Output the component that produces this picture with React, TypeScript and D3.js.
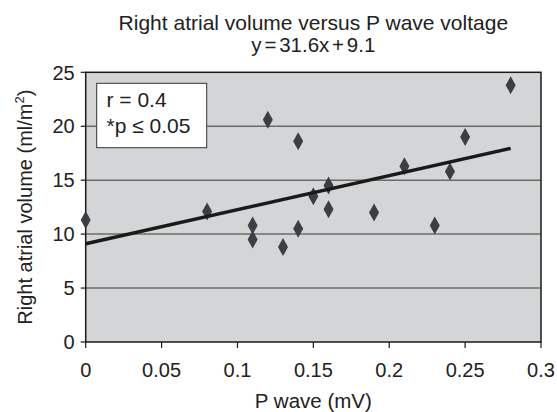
import React from 'react';
import * as d3 from 'd3';

// data
const pWave = [0, 0.08, 0.11, 0.11, 0.12, 0.13, 0.14, 0.14, 0.15, 0.16, 0.16, 0.19, 0.21, 0.23, 0.24, 0.25, 0.28];
const raVolume = [11.3, 12.1, 10.8, 9.5, 20.6, 8.8, 18.6, 10.5, 13.5, 14.5, 12.3, 12.0, 16.3, 10.8, 15.8, 19.0, 23.8];
const xTicks = [0, 0.05, 0.1, 0.15, 0.2, 0.25, 0.3];
const yTicks = [0, 5, 10, 15, 20, 25];
const slope = 31.6;
const intercept = 9.1;
const fitRange = [0, 0.28];

const W = 557;
const H = 412;
const FONT = "'Liberation Sans', Arial, sans-serif";

export default function App() {
  const left = 85.7, right = 541, top = 72.3, bottom = 342;
  const x = d3.scaleLinear().domain([0, 0.3]).range([left, right]);
  const y = d3.scaleLinear().domain([0, 25]).range([bottom, top]);

  const points = pWave.map((v, i) => ({ x: v, y: raVolume[i] }));
  const fit = d3.line<number>()
    .x(d => x(d))
    .y(d => y(slope * d + intercept));

  const diamond = (cx: number, cy: number) =>
    `M${cx},${cy - 9}L${cx + 5},${cy}L${cx},${cy + 9}L${cx - 5},${cy}Z`;

  const cx = (left + right) / 2;

  return (
    <svg width={W} height={H} style={{ position: 'absolute', left: 0, top: 0, background: '#fff' }}
      fontFamily={FONT}>
      {/* titre */}
      <text x={cx} y={30} textAnchor="middle" fontSize={21} fill="#222">
        Right atrial volume versus P wave voltage
      </text>
      <text x={cx} y={51.5} textAnchor="middle" fontSize={20.5} fill="#222">
        y<tspan fontSize={10}> </tspan>=<tspan fontSize={10}> </tspan>31.6x<tspan fontSize={10}> </tspan>+<tspan fontSize={10}> </tspan>9.1
      </text>

      {/* plot area */}
      <rect x={left} y={top} width={right - left} height={bottom - top} fill="#d4d5d7" />
      {yTicks.filter(t => t > 0 && t < 25).map(t => (
        <line key={'g' + t} x1={left} x2={right} y1={y(t)} y2={y(t)} stroke="#6b6b6b" strokeWidth={1.5} />
      ))}
      <rect x={left} y={top} width={right - left} height={bottom - top} fill="none" stroke="#1a1a1a" strokeWidth={1.5} />

      {/* axes ticks */}
      {yTicks.map(t => (
        <g key={'y' + t}>
          <line x1={left - 5} x2={left} y1={y(t)} y2={y(t)} stroke="#1a1a1a" strokeWidth={1.2} />
          <text x={left - 11} y={y(t)} dy="0.36em" textAnchor="end" fontSize={20} fill="#222">{t}</text>
        </g>
      ))}
      {xTicks.map(t => (
        <g key={'x' + t}>
          <line x1={x(t)} x2={x(t)} y1={bottom} y2={bottom + 6} stroke="#1a1a1a" strokeWidth={1.2} />
          <text x={x(t)} y={377} textAnchor="middle" fontSize={20} fill="#222">{String(t)}</text>
        </g>
      ))}

      <text x={cx} y={408} textAnchor="middle" fontSize={20.5} fill="#222">P wave (mV)</text>
      <text transform={`translate(32,${(top + bottom) / 2 + 0}) rotate(-90)`} textAnchor="middle" fontSize={20} fill="#222">
        Right atrial volume (ml/m<tspan dy={-8} fontSize={13}>2</tspan><tspan dy={8}>)</tspan>
      </text>

      {/* points */}
      {points.map((p, i) => (
        <path key={'p' + i} d={diamond(x(p.x), y(p.y))} fill="#3b3e42" />
      ))}

      {/* trend line */}
      <path d={fit(fitRange) || ''} fill="none" stroke="#1a1a1a" strokeWidth={3.5} />

      {/* legend box */}
      <rect x={96.7} y={83.3} width={110} height={64.4} fill="#fff" stroke="#333" strokeWidth={1} />
      <text x={106.5} y={106.5} fontSize={21} fill="#222">r = 0.4</text>
      <text x={106.5} y={132.5} fontSize={21} fill="#222">*p ≤ 0.05</text>
    </svg>
  );
}
